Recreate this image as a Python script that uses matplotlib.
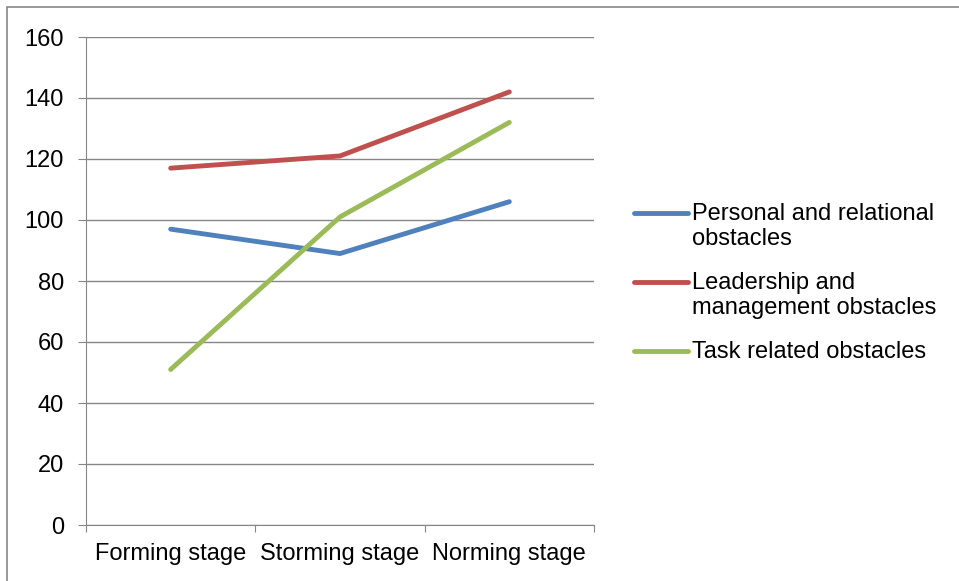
import matplotlib.pyplot as plt
from matplotlib.lines import Line2D
from matplotlib.patches import Rectangle

plt.rcParams['font.family'] = ['Liberation Sans', 'DejaVu Sans']

stages = ['Forming stage', 'Storming stage', 'Norming stage']
personal = [97, 89, 106]
leadership = [117, 121, 142]
task = [51, 101, 132]
labels = ['Personal and relational\nobstacles',
          'Leadership and\nmanagement obstacles',
          'Task related obstacles']
colors = ['#4F81BD', '#C0504D', '#9BBB59']

fs = 17
fig = plt.figure(figsize=(9.59, 5.81), dpi=100)
ax = fig.add_axes([86/959, 1-525/581, (594-86)/959, (525-37)/581])

xs = [0.5, 1.5, 2.5]
for vals, c in zip([personal, leadership, task], colors):
    ax.plot(xs, vals, color=c, lw=3.5, solid_capstyle='round', solid_joinstyle='round', zorder=3)

gray = '#868686'
ax.set_xlim(0, 3)
ax.set_ylim(0, 160)
ax.set_yticks(range(0, 161, 20))
ax.grid(axis='y', color=gray, lw=1)
ax.set_axisbelow(True)
ax.set_xticks([0, 1, 2, 3])
ax.set_xticklabels([])
ax.set_xticks(xs, minor=True)
ax.set_xticklabels(stages, minor=True, fontsize=fs)
ax.tick_params(axis='x', which='minor', length=0, pad=13)
ax.tick_params(axis='x', which='major', length=5, color=gray, direction='out')
ax.tick_params(axis='y', length=6, color=gray, labelsize=fs, pad=10)
for s in ['top', 'right']:
    ax.spines[s].set_visible(False)
for s in ['left', 'bottom']:
    ax.spines[s].set_color(gray)

# legend drawn by hand so the handle sits on the first text line
ys = [213, 282, 351]
for lab, c, y in zip(labels, colors, ys):
    yf = 1 - y/581
    fig.add_artist(Line2D([634/959, 688/959], [yf, yf], color=c, lw=3.5,
                          solid_capstyle='round', transform=fig.transFigure))
    fig.text(692/959, yf + 10/581, lab, fontsize=fs, va='top', ha='left',
             linespacing=1.15)

fig.add_artist(Rectangle((7/959, -0.1), 1.2, 1 - 7/581 + 0.1, transform=fig.transFigure,
                         fill=False, ec=gray, lw=1.2))

fig.savefig('out.png', dpi=100)
